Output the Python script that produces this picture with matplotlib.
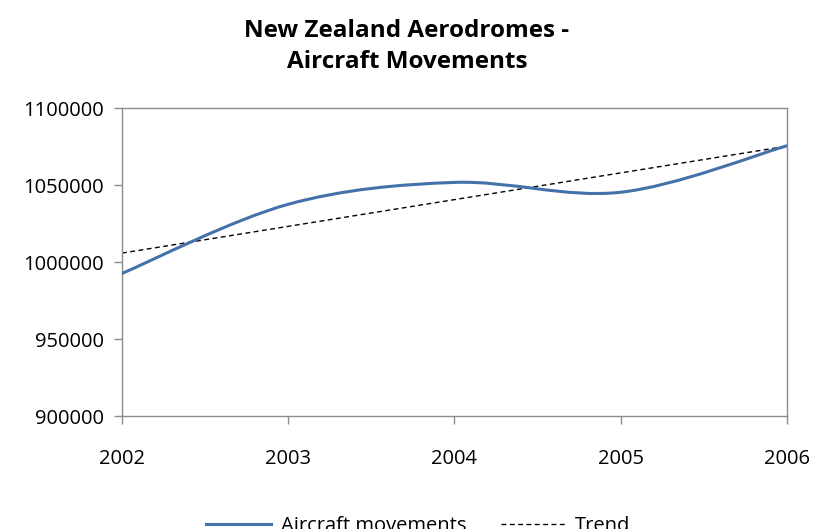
import numpy as np
import matplotlib
matplotlib.use("Agg")
import matplotlib.pyplot as plt
from matplotlib.path import Path
from matplotlib.patches import PathPatch
from matplotlib.lines import Line2D
from matplotlib.ticker import StrMethodFormatter

years = [2002, 2003, 2004, 2005, 2006]
movements = [992600, 1037500, 1051700, 1045300, 1075500]

LINE_BLUE = "#4571AA"
AXIS_GREY = "#8C8C8C"

plt.rcParams["font.family"] = ["Open Sans", "DejaVu Sans"]


def smooth_path(xs, ys, tension=1 / 6):
    # cubic bezier through each point, spreadsheet-style smoothing
    pts = np.column_stack([xs, ys]).astype(float)
    n = len(pts)
    verts = [pts[0]]
    codes = [Path.MOVETO]
    for i in range(n - 1):
        prev_pt = pts[i - 1] if i > 0 else pts[i]
        next_pt = pts[i + 2] if i + 2 < n else pts[i + 1]
        c1 = pts[i] + (pts[i + 1] - prev_pt) * tension
        c2 = pts[i + 1] - (next_pt - pts[i]) * tension
        verts += [c1, c2, pts[i + 1]]
        codes += [Path.CURVE4] * 3
    return Path(verts, codes)


x = np.array(years, dtype=float)
y = np.array(movements, dtype=float)
slope, intercept = np.polyfit(x, y, 1)

fig = plt.figure(figsize=(8.14, 5.29), dpi=100)
ax = fig.add_axes([0.1499, 0.2136, 0.8169, 0.5822])

ax.add_patch(PathPatch(smooth_path(x, y), fill=False, edgecolor=LINE_BLUE,
                       linewidth=2.2, capstyle="round", zorder=3))
ax.plot(x, slope * x + intercept, color="black", linewidth=1.0,
        dashes=(3.5, 2.5), zorder=2)

ax.set_xlim(2002, 2006)
ax.set_ylim(900000, 1100000)
ax.set_xticks(years)
ax.set_yticks(np.arange(900000, 1100001, 50000))
ax.yaxis.set_major_formatter(StrMethodFormatter("{x:.0f}"))
ax.tick_params(axis="both", direction="out", length=6, width=1,
               color=AXIS_GREY, labelsize=14.5, labelcolor="black")
ax.tick_params(axis="y", pad=7)
ax.tick_params(axis="x", pad=18)
for spine in ax.spines.values():
    spine.set_color(AXIS_GREY)
    spine.set_linewidth(1.0)

fig.suptitle("New Zealand Aerodromes -\nAircraft Movements", x=0.5, y=0.965,
             fontsize=17.5, fontweight="bold", linespacing=1.42, va="top")

handles = [Line2D([], [], color=LINE_BLUE, linewidth=2.2),
           Line2D([], [], color="black", linewidth=1.0, dashes=(3.5, 2.5))]
fig.legend(handles, ["Aircraft movements", "Trend"], loc="center",
           bbox_to_anchor=(0.514, 0.006), ncol=2, frameon=False, fontsize=14.5,
           handlelength=3.2, handletextpad=0.5, columnspacing=1.7)

fig.savefig("out.png", dpi=100)
